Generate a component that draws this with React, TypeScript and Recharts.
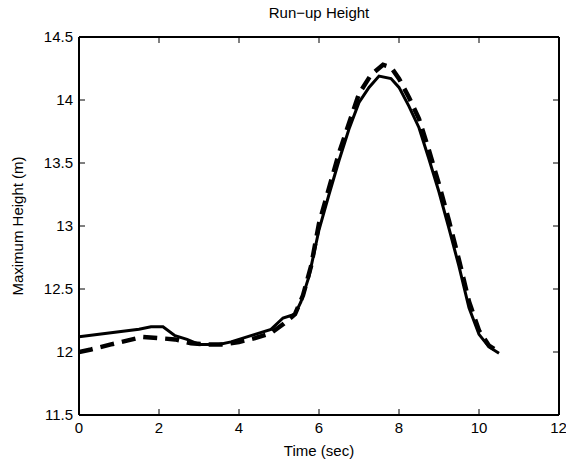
import { LineChart, Line, XAxis, YAxis } from "recharts";

document.body.style.margin = "0";

const solidTime = [0, 0.5, 1, 1.5, 1.8, 2.1, 2.4, 2.7, 3, 3.5, 3.8, 4, 4.4, 4.8, 5.1, 5.4, 5.55, 5.75, 6, 6.25, 6.5, 6.75, 7, 7.25, 7.5, 7.8, 8, 8.25, 8.5, 8.75, 9, 9.25, 9.5, 9.75, 10, 10.25, 10.5];
const solidHeight = [12.12, 12.14, 12.16, 12.18, 12.2, 12.2, 12.13, 12.1, 12.06, 12.06, 12.08, 12.1, 12.14, 12.18, 12.27, 12.3, 12.4, 12.6, 12.97, 13.25, 13.52, 13.77, 13.98, 14.1, 14.19, 14.17, 14.1, 13.95, 13.78, 13.53, 13.27, 12.98, 12.68, 12.35, 12.14, 12.04, 11.99];

const dashTime = [0, 0.3, 0.8, 1.2, 1.6, 2, 2.4, 2.8, 3.2, 3.6, 4, 4.4, 4.8, 5.1, 5.4, 5.6, 5.8, 6, 6.5, 7, 7.3, 7.6, 7.8, 8, 8.25, 8.5, 8.75, 9, 9.25, 9.5, 9.75, 10, 10.25, 10.5];
const dashHeight = [12, 12.02, 12.06, 12.09, 12.12, 12.11, 12.1, 12.07, 12.06, 12.06, 12.08, 12.11, 12.15, 12.22, 12.3, 12.45, 12.68, 13.02, 13.58, 14.05, 14.2, 14.28, 14.26, 14.17, 14.02, 13.85, 13.6, 13.33, 13.04, 12.73, 12.4, 12.17, 12.05, 12];

const xTicks = [0, 2, 4, 6, 8, 10, 12];
const yTicks = [11.5, 12, 12.5, 13, 13.5, 14, 14.5];

const solid = solidTime.map((t, i) => ({ t, h: solidHeight[i] }));
const dashed = dashTime.map((t, i) => ({ t, h: dashHeight[i] }));

const FONT = "'Liberation Sans', Arial, sans-serif";
const tickText = { fill: "#000", fontSize: 15, fontFamily: FONT };
const frame = { stroke: "#000", strokeWidth: 2 };
const tick = { stroke: "#000", strokeWidth: 1 };
const blank = () => "";

export default function App() {
  return (
    <div style={{ position: "relative", width: 566, height: 463, background: "#fff" }}>
      <LineChart width={566} height={463} margin={{ top: 37, right: 7, bottom: 0, left: 0 }} style={{ fontFamily: FONT }}>
        <XAxis xAxisId="b" dataKey="t" type="number" domain={[0, 12]} ticks={xTicks} allowDataOverflow
          height={48} tickLine={false} tickSize={0} tickMargin={7} axisLine={frame} tick={tickText} />
        <XAxis xAxisId="bm" dataKey="t" type="number" domain={[0, 12]} ticks={xTicks} allowDataOverflow
          mirror tickSize={6} tickLine={tick} axisLine={false} tickFormatter={blank} />
        <XAxis xAxisId="t" dataKey="t" orientation="top" type="number" domain={[0, 12]} ticks={xTicks} allowDataOverflow
          mirror tickSize={6} tickLine={tick} axisLine={frame} tickFormatter={blank} />
        <YAxis yAxisId="l" type="number" domain={[11.5, 14.5]} ticks={yTicks} allowDataOverflow
          width={79} tickLine={false} tickSize={0} tickMargin={6} axisLine={frame} tick={tickText} />
        <YAxis yAxisId="lm" type="number" domain={[11.5, 14.5]} ticks={yTicks} allowDataOverflow
          mirror tickSize={6} tickLine={tick} axisLine={false} tickFormatter={blank} />
        <YAxis yAxisId="r" orientation="right" type="number" domain={[11.5, 14.5]} ticks={yTicks} allowDataOverflow
          mirror tickSize={6} tickLine={tick} axisLine={frame} tickFormatter={blank} />
        <Line data={dashed} dataKey="h" xAxisId="b" yAxisId="l" type="linear" stroke="#000" strokeWidth={4.5}
          strokeDasharray="14 8" dot={false} activeDot={false} isAnimationActive={false} />
        <Line data={solid} dataKey="h" xAxisId="b" yAxisId="l" type="linear" stroke="#000" strokeWidth={3}
          dot={false} activeDot={false} isAnimationActive={false} />
      </LineChart>
      <svg width={566} height={463} style={{ position: "absolute", left: 0, top: 0, pointerEvents: "none" }}>
        <text x={319} y={18} textAnchor="middle" fontSize={15} fontFamily={FONT} fill="#000">Run−up Height</text>
        <text x={319} y={456} textAnchor="middle" fontSize={15} fontFamily={FONT} fill="#000">Time (sec)</text>
        <text x={0} y={0} transform="translate(23,226) rotate(-90)" textAnchor="middle" fontSize={15} fontFamily={FONT} fill="#000">Maximum Height (m)</text>
      </svg>
    </div>
  );
}
